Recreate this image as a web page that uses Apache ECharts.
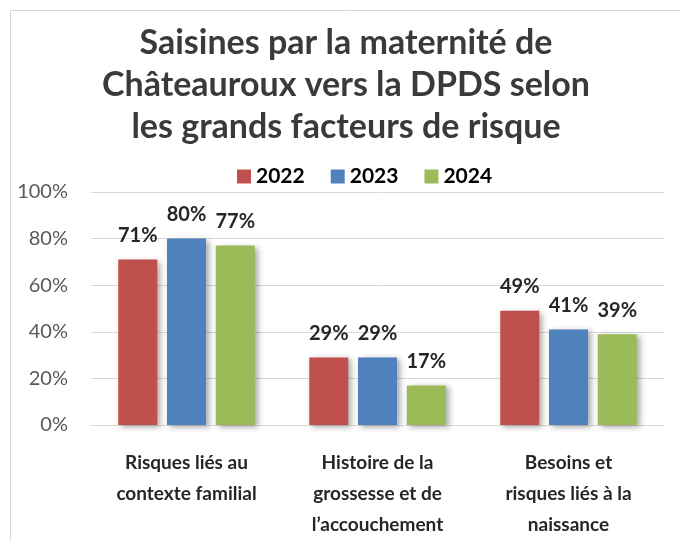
<!DOCTYPE html>
<html><head><meta charset="utf-8">
<script src="https://cdn.jsdelivr.net/npm/echarts@6/dist/echarts.min.js"></script>
<style>html,body{margin:0;padding:0;background:#fff}#c{width:680px;height:541px}</style>
</head><body><div id="c"></div>
<script>
const categories = ["Risques liés au\ncontexte familial", "Histoire de la\ngrossesse et de\nl’accouchement", "Besoins et\nrisques liés à la\nnaissance"];
const years = ["2022", "2023", "2024"];
const values2022 = [71, 29, 49];
const values2023 = [80, 29, 41];
const values2024 = [77, 17, 39];
const yTicks = [0, 20, 40, 60, 80, 100];
const colors = ["#C0504D", "#4F81BD", "#9BBB59"];
const FONT = "Lato, 'Open Sans', sans-serif";

const chart = echarts.init(document.getElementById('c'), null, {renderer: 'canvas'});
const seriesData = [values2022, values2023, values2024];
chart.setOption({
  animation: false,
  color: colors,
  title: {
    text: "Saisines par la maternité de\nChâteauroux vers la DPDS selon\nles grands facteurs de risque",
    left: 341, textAlign: 'center', top: 17,
    textStyle: {fontFamily: FONT, fontWeight: 'bold', fontSize: 34, lineHeight: 42, color: '#3a3a3a'}
  },
  graphic: [{type: 'rect', shape: {x: 10.5, y: 10.5, width: 700, height: 560}, style: {fill: 'none', stroke: '#d9d9d9', lineWidth: 1}, silent: true}],
  legend: {
    data: years, top: 161, left: 232, itemWidth: 14, itemHeight: 14, itemGap: 26,
    icon: 'rect',
    textStyle: {fontFamily: FONT, fontWeight: 'bold', fontSize: 21, color: '#000'}
  },
  grid: {left: 91, right: 16, top: 192, bottom: 116, containLabel: false},
  xAxis: {
    type: 'category', data: categories,
    axisLine: {lineStyle: {color: '#d9d9d9', width: 1}},
    axisTick: {show: false},
    axisLabel: {interval: 0, margin: 22, fontFamily: FONT, fontWeight: 'bold', fontSize: 19, lineHeight: 31, color: '#262626'}
  },
  yAxis: {
    type: 'value', min: yTicks[0], max: yTicks[yTicks.length - 1], interval: 20,
    axisLine: {show: false}, axisTick: {show: false},
    splitLine: {lineStyle: {color: '#d9d9d9', width: 1}},
    axisLabel: {margin: 23, fontFamily: FONT, fontSize: 20, color: '#595959', formatter: v => v + '%'}
  },
  series: years.map((y, i) => ({
    name: y, type: 'bar', data: seriesData[i], barWidth: 39, barGap: '25%',
    itemStyle: {color: colors[i], shadowBlur: 6, shadowOffsetX: 3, shadowOffsetY: 2, shadowColor: 'rgba(0,0,0,0.35)'},
    label: {show: true, position: 'top', distance: 14, formatter: p => p.value + '%',
      fontFamily: FONT, fontWeight: 'bold', fontSize: 20, color: '#262626'}
  }))
});
</script></body></html>
